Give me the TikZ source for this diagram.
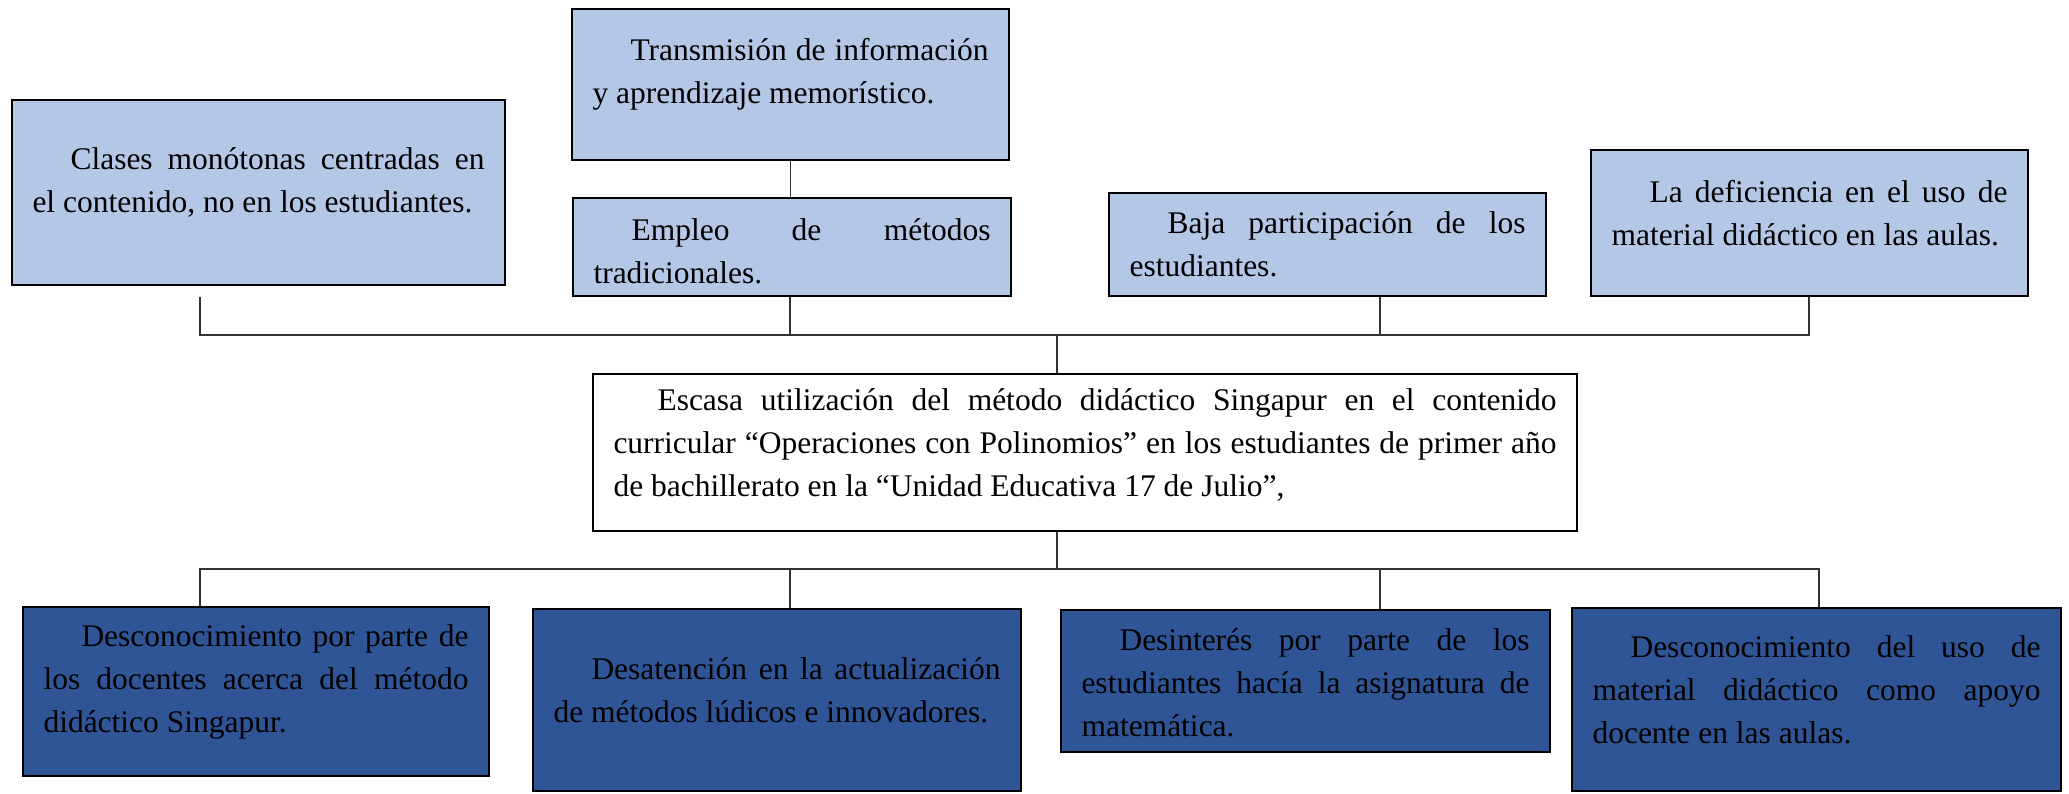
\documentclass[tikz,border=0pt]{standalone}
\usepackage{fontspec}
\setmainfont{Liberation Serif}
\definecolor{causaazul}{HTML}{B4C7E7}
\definecolor{efectoazul}{HTML}{2F5597}
\tolerance=10000
\hyphenpenalty=10000
\begin{document}
\begin{tikzpicture}[x=1pt,y=-1pt,
  causa/.style={draw,line width=2pt,fill=causaazul},
  efecto/.style={draw,line width=2pt,fill=efectoazul},
  central/.style={draw,line width=2pt,fill=white},
  texto/.style={align=justify,inner sep=0pt,font=\fontsize{31.5}{43}\selectfont,execute at begin node={\hspace*{#1}}},
  texto/.default=38pt,
  rama/.style={line width=1.3pt,black!80}]
\useasboundingbox (0,0) rectangle (2069,794);
% causas
\node[causa,minimum width=493pt,minimum height=185pt] (clases) at (258.5,192.5) {};
\node[texto,text width=452pt] (clasesT) at ([yshift=10pt]clases.center) {Clases monótonas centradas en\linebreak el contenido, no en los estudiantes.};
\node[causa,minimum width=437pt,minimum height=151pt] (transmision) at (790.5,84.5) {};
\node[texto,text width=396pt] (transmisionT) at ([yshift=10pt]transmision.center) {Transmisión de información\linebreak y aprendizaje memorístico.};
\node[causa,minimum width=438pt,minimum height=98pt] (empleo) at (792,247) {};
\node[texto,text width=397pt] (empleoT) at ([yshift=-4pt]empleo.center) {Empleo de métodos\linebreak tradicionales.};
\node[causa,minimum width=437pt,minimum height=103pt] (baja) at (1327.5,244.5) {};
\node[texto,text width=396pt] (bajaT) at (baja.center) {Baja participación de los\linebreak estudiantes.};
\node[causa,minimum width=437pt,minimum height=146pt] (deficiencia) at (1809.5,223) {};
\node[texto,text width=396pt] (deficienciaT) at ([yshift=10pt]deficiencia.center) {La deficiencia en el uso de\linebreak material didáctico en las aulas.};
% problema central
\node[central,minimum width=984pt,minimum height=157pt] (problema) at (1085,452.5) {};
\node[texto=44pt,text width=943pt] (problemaT) at ([yshift=8pt]problema.center) {Escasa utilización del método didáctico Singapur en el contenido\linebreak curricular “Operaciones con Polinomios” en los estudiantes de primer año\linebreak de bachillerato en la “Unidad Educativa 17 de Julio”,};
% efectos
\node[efecto,minimum width=466pt,minimum height=169pt] (docentes) at (256,691.5) {};
\node[texto,text width=425pt] (docentesT) at ([yshift=10pt]docentes.center) {Desconocimiento por parte de\linebreak los docentes acerca del método\linebreak didáctico Singapur.};
\node[efecto,minimum width=488pt,minimum height=182pt] (desatencion) at (777,700) {};
\node[texto,text width=447pt] (desatencionT) at ([yshift=10pt]desatencion.center) {Desatención en la actualización\linebreak de métodos lúdicos e innovadores.};
\node[efecto,minimum width=489pt,minimum height=142pt] (desinteres) at (1305.5,681) {};
\node[texto,text width=448pt] (desinteresT) at ([yshift=-2pt]desinteres.center) {Desinterés por parte de los\linebreak estudiantes hacía la asignatura de\linebreak matemática.};
\node[efecto,minimum width=489pt,minimum height=183pt] (material) at (1816.5,699.5) {};
\node[texto,text width=448pt] (materialT) at ([yshift=10pt]material.center) {Desconocimiento del uso de\linebreak material didáctico como apoyo\linebreak docente en las aulas.};
% ramas de arriba
\coordinate (bA) at (200,335);
\coordinate (bB) at (790,335);
\coordinate (bC) at (1380,335);
\coordinate (bD) at (1809,335);
\coordinate (bM) at (1057,335);
\draw[rama] (transmision.south) -- (transmision.south |- empleo.north);
\draw[rama] (bA |- empleo.south) -- (bA) -- (bD) -- (bD |- deficiencia.south);
\draw[rama] (bB |- empleo.south) -- (bB);
\draw[rama] (bC |- baja.south) -- (bC);
\draw[rama] (bM) -- (bM |- problema.north);
% ramas de abajo
\coordinate (cA) at (200,569);
\coordinate (cB) at (790,569);
\coordinate (cC) at (1380,569);
\coordinate (cD) at (1819,569);
\coordinate (cM) at (1057,569);
\draw[rama] (cM |- problema.south) -- (cM);
\draw[rama] (cA |- docentes.north) -- (cA) -- (cD) -- (cD |- material.north);
\draw[rama] (cB) -- (cB |- desatencion.north);
\draw[rama] (cC) -- (cC |- desinteres.north);
\end{tikzpicture}
\end{document}
